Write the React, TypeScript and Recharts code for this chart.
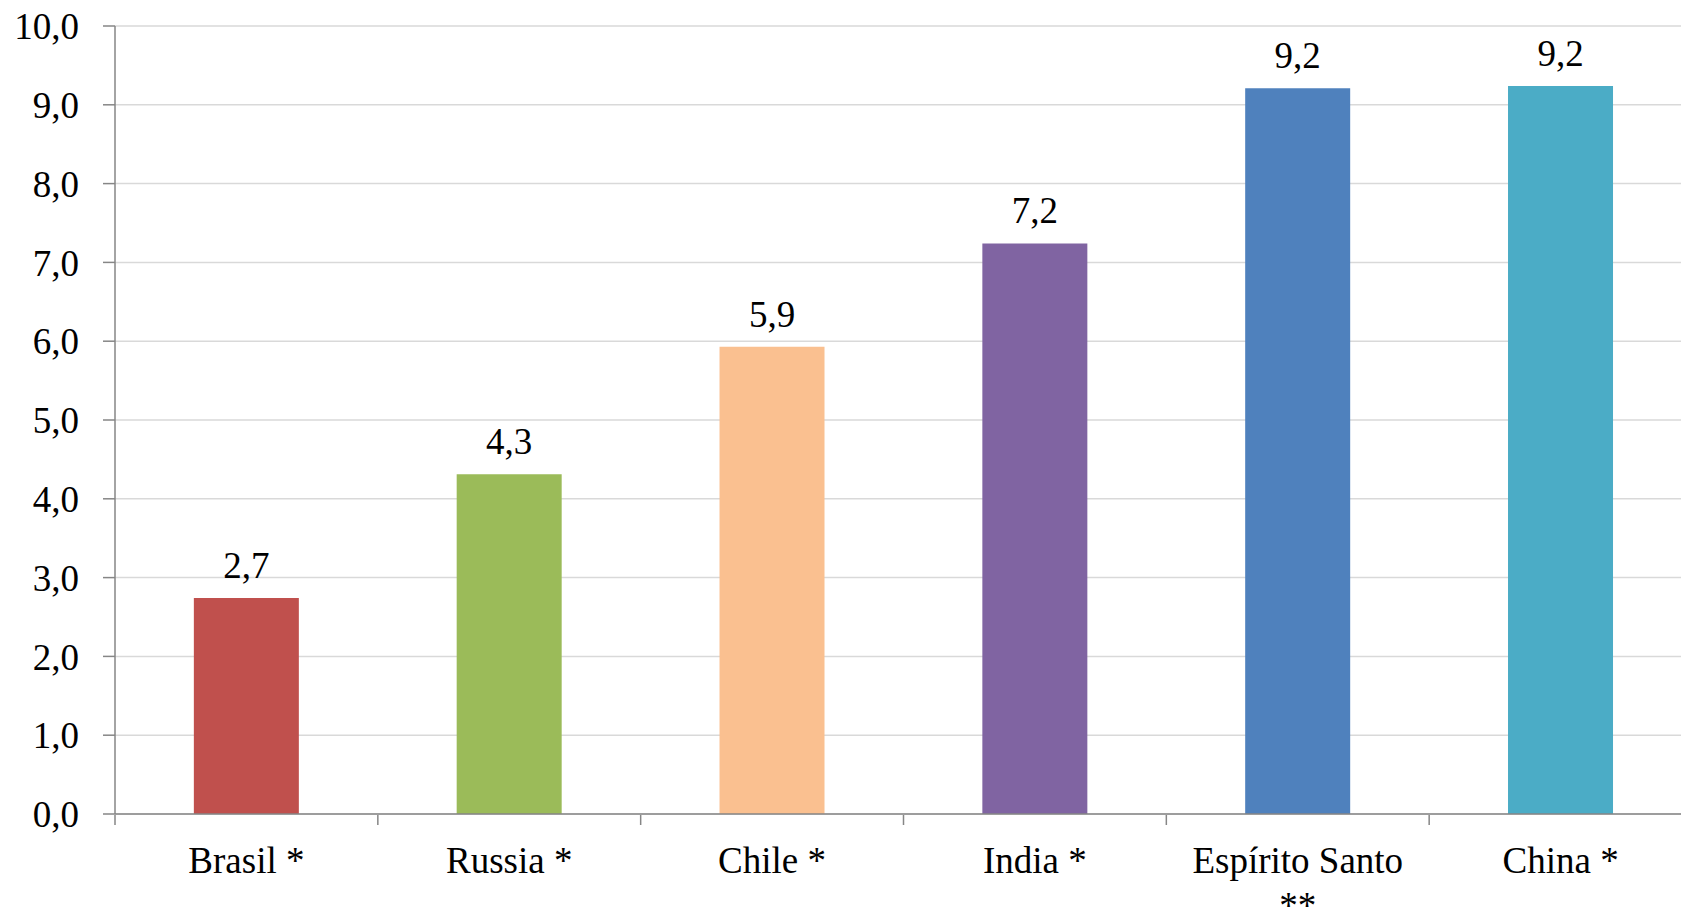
import { BarChart, Bar, XAxis, YAxis, CartesianGrid, Cell, LabelList } from "recharts";

const categories = ["Brasil *", "Russia *", "Chile *", "India *", "Espírito Santo\n**", "China *"];
const values = [2.74, 4.31, 5.93, 7.24, 9.21, 9.24];
const colors = ["#C0504D", "#9BBB59", "#FAC090", "#8064A2", "#4F81BD", "#4BACC6"];
const yTicks = [0, 1, 2, 3, 4, 5, 6, 7, 8, 9, 10];
const boundaryTicks = [0, 1, 2, 3, 4, 5, 6];

const data = categories.map((name, i) => ({ name, value: values[i] }));

const FONT = "'Liberation Serif', 'Times New Roman', serif";
const AXIS = "#868686";
const fmt = (v: number) => v.toFixed(1).replace(".", ",");

function CategoryTick(props: any) {
  const { x, y, payload } = props;
  const lines = String(payload.value).split("\n");
  return (
    <text x={x} y={y} textAnchor="middle" fontFamily={FONT} fontSize={37} fill="#000">
      {lines.map((line, i) => (
        <tspan key={i} x={x} dy={i === 0 ? "0.71em" : "1.2em"}>
          {line}
        </tspan>
      ))}
    </text>
  );
}

// category slot on a 0..N number line (centre of each band)
const slotOf = (d: any) => categories.indexOf(d.name) + 0.5;

export default function App() {
  return (
    <div
      style={{
        position: "absolute",
        left: 0,
        top: 0,
        width: 1681,
        height: 907,
        overflow: "hidden",
        background: "#fff",
      }}
    >
      <BarChart
        width={1692}
        height={907}
        data={data}
        margin={{ top: 26, right: 0, bottom: 0, left: 0 }}
        barCategoryGap="30%"
      >
        <CartesianGrid vertical={false} stroke="#D9D9D9" strokeWidth={1.5} />
        {/* category labels + axis line (placed right under the plot) */}
        <XAxis
          dataKey="name"
          height={1}
          stroke={AXIS}
          strokeWidth={1.5}
          tickLine={false}
          tickMargin={23}
          tickSize={10}
          interval={0}
          tick={<CategoryTick />}
        />
        {/* tick marks between categories */}
        <XAxis
          xAxisId="bounds"
          type="number"
          dataKey={slotOf}
          domain={[0, categories.length]}
          ticks={boundaryTicks}
          interval={0}
          height={92}
          tickSize={10}
          tick={() => null}
          axisLine={false}
          stroke={AXIS}
          strokeWidth={1.5}
          allowDataOverflow
        />
        <YAxis
          width={115}
          domain={[0, 10]}
          ticks={yTicks}
          interval={0}
          tickSize={12}
          tickMargin={24}
          tickFormatter={fmt}
          stroke={AXIS}
          strokeWidth={1.5}
          tick={{ fontFamily: FONT, fontSize: 37, fill: "#000" }}
        />
        <Bar dataKey="value" isAnimationActive={false}>
          {data.map((d, i) => (
            <Cell key={d.name} fill={colors[i]} />
          ))}
          <LabelList
            dataKey="value"
            position="top"
            offset={20}
            formatter={(v: any) => fmt(Number(v))}
            style={{ fontFamily: FONT, fontSize: 37, fill: "#000" }}
          />
        </Bar>
      </BarChart>
    </div>
  );
}
